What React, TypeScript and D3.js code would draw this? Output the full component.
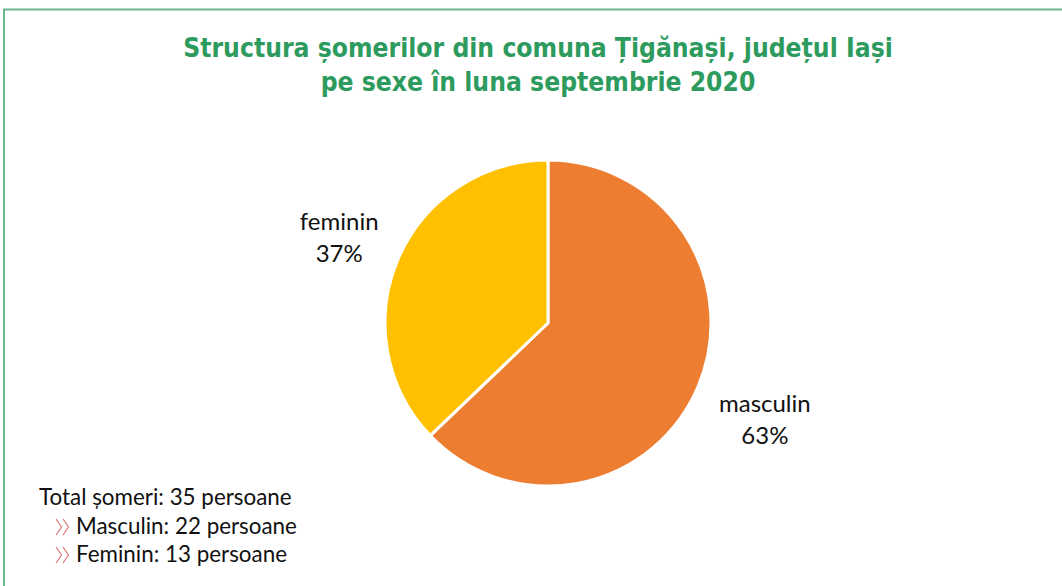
import { useEffect, useRef } from 'react';
import * as d3 from 'd3';

const categories = ['masculin', 'feminin'];
const persons = [22, 13];
const sliceColors = ['#ED7D31', '#FFC000'];
const titleLines = [
    'Structura șomerilor din comuna Țigănași, județul Iași',
    'pe sexe în luna septembrie 2020',
];
const totalLabel = 'Total șomeri: 35 persoane';
const noteLines = ['Masculin: 22 persoane', 'Feminin: 13 persoane'];

const W = 1062;
const H = 586;

export default function App() {
    const svgRef = useRef(null);

    useEffect(() => {
        const svg = d3.select(svgRef.current);
        svg.selectAll('*').remove();

        // chart frame (only top + left edges visible)
        svg.append('line')
            .attr('x1', 3).attr('x2', W).attr('y1', 9.5).attr('y2', 9.5)
            .attr('stroke', '#6DB88F').attr('stroke-width', 2);
        svg.append('line')
            .attr('x1', 4).attr('x2', 4).attr('y1', 9).attr('y2', H)
            .attr('stroke', '#6DB88F').attr('stroke-width', 2);

        // title
        const title = svg.append('g')
            .selectAll('text')
            .data(titleLines)
            .join('text')
            .attr('x', 538)
            .attr('y', (d, i) => 57 + i * 34)
            .attr('text-anchor', 'middle')
            .attr('font-family', '"DejaVu Sans Condensed", "DejaVu Sans", sans-serif')
            .attr('font-stretch', 'condensed')
            .attr('font-weight', 'bold')
            .attr('font-size', 25)
            .attr('fill', '#2E9B5E')
            .text((d) => d);
        // fit first line to the width it has in the original
        const first = title.nodes()[0];
        const w0 = first.getComputedTextLength();
        if (w0 > 0) {
            const size = Math.max(18, Math.min(30, 25 * (710 / w0)));
            title.attr('font-size', size);
        }

        const total = d3.sum(persons);
        const data = categories.map((c, i) => ({ name: c, value: persons[i], color: sliceColors[i] }));

        const cx = 548;
        const cy = 323;
        const radius = 163;

        const pie = d3.pie().value((d) => d.value).sort(null);
        const arc = d3.arc().innerRadius(0).outerRadius(radius);
        const arcs = pie(data);

        const g = svg.append('g').attr('transform', `translate(${cx}, ${cy})`);
        g.selectAll('path')
            .data(arcs)
            .join('path')
            .attr('d', arc)
            .attr('fill', (d) => d.data.color)
            .attr('stroke', '#fff')
            .attr('stroke-width', 3)
            .attr('stroke-linejoin', 'round');

        // outside labels
        const labelArc = d3.arc().innerRadius(radius * 1.42).outerRadius(radius * 1.42);
        const labels = g.selectAll('g.lbl')
            .data(arcs)
            .join('g')
            .attr('class', 'lbl')
            .attr('transform', (d) => {
                const [x, y] = labelArc.centroid(d);
                return `translate(${x + 4}, ${y + 14})`;
            })
            .attr('font-family', 'Lato, sans-serif')
            .attr('font-size', 24)
            .attr('fill', '#111')
            .attr('text-anchor', 'middle');
        labels.append('text')
            .attr('y', -16)
            .text((d) => d.data.name);
        labels.append('text')
            .attr('y', 16)
            .text((d) => `${Math.round((d.value / total) * 100)}%`);

        // notes at bottom-left
        const notes = svg.append('g')
            .attr('font-family', 'Lato, sans-serif')
            .attr('font-size', 22.4)
            .attr('fill', '#111');
        notes.append('text').attr('x', 39).attr('y', 505).text(totalLabel);
        const chevron = d3.line();
        noteLines.forEach((t, i) => {
            const y = 534 + i * 28;
            [56, 63].forEach((x) => {
                notes.append('path')
                    .attr('d', chevron([[x, y - 15], [x + 5.5, y - 7], [x, y + 1]]))
                    .attr('fill', 'none')
                    .attr('stroke', '#E07070')
                    .attr('stroke-width', 1.1);
            });
            notes.append('text').attr('x', 76).attr('y', y).text(t);
        });
    }, []);

    return (
        <svg
            ref={svgRef}
            width={W}
            height={H}
            style={{ position: 'absolute', left: 0, top: 0, background: '#fff' }}
        />
    );
}
